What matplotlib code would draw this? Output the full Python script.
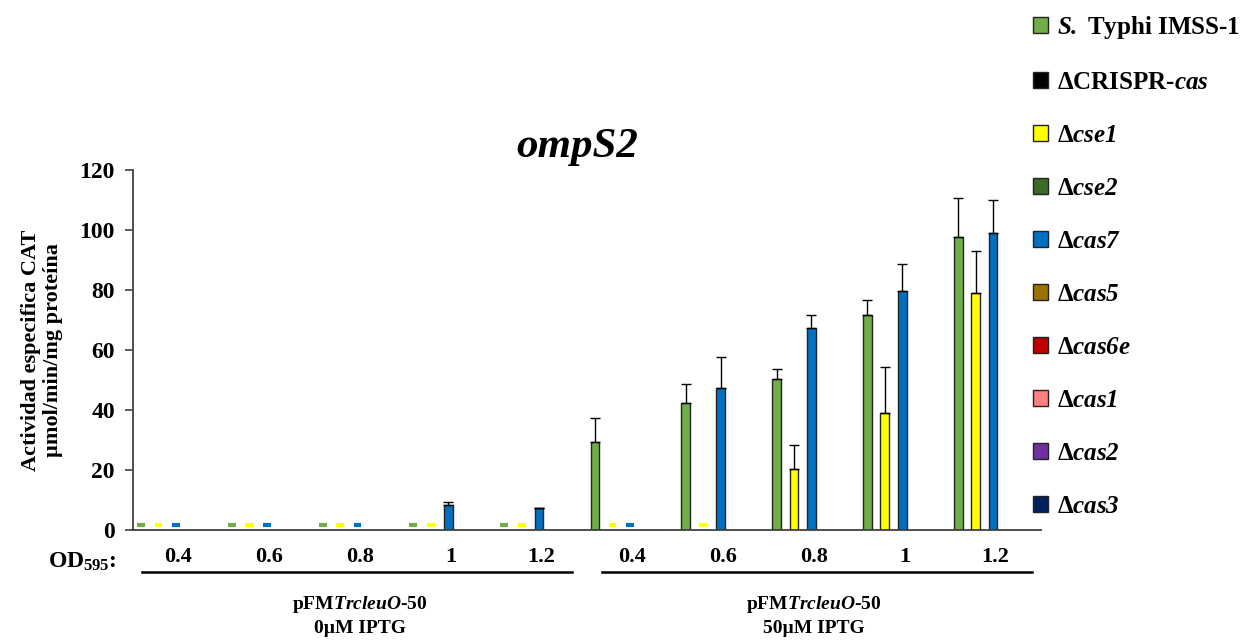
import numpy as np
import matplotlib
matplotlib.use("Agg")
import matplotlib.pyplot as plt
from matplotlib.patches import Patch

plt.rcParams['font.family'] = ['Liberation Serif', 'DejaVu Serif']
plt.rcParams['font.weight'] = 'bold'
plt.rcParams['axes.labelweight'] = 'bold'
plt.rcParams['mathtext.fontset'] = 'custom'
# math parts are only used for italic gene names, so digits come out italic too
plt.rcParams['mathtext.rm'] = 'Liberation Serif:italic:bold'
plt.rcParams['mathtext.it'] = 'Liberation Serif:italic:bold'
plt.rcParams['mathtext.bf'] = 'Liberation Serif:bold'

# data (CAT specific activity)
od_labels = ['0.4', '0.6', '0.8', '1', '1.2', '0.4', '0.6', '0.8', '1', '1.2']
wt = [0, 0, 0, 0, 0, 29.3, 42.3, 50.3, 71.7, 97.7]
wt_err = [0, 0, 0, 0, 0, 8.0, 6.4, 3.4, 5.0, 13.0]
cse1 = [0, 0, 0, 0, 0, 0, 0, 20.3, 39.0, 79.0]
cse1_err = [0, 0, 0, 0, 0, 0, 0, 8.0, 15.3, 14.0]
cas7 = [0, 0, 0, 8.3, 7.3, 0, 47.3, 67.3, 79.7, 99.0]
cas7_err = [0, 0, 0, 1.0, 0.2, 0, 10.4, 4.4, 9.0, 11.0]

legend_labels = [r'$S.$ Typhi IMSS-1', r'ΔCRISPR-$cas$', r'Δ$cse1$',
                 r'Δ$cse2$', r'Δ$cas7$', r'Δ$cas5$', r'Δ$cas6e$',
                 r'Δ$cas1$', r'Δ$cas2$', r'Δ$cas3$']
legend_colors = ['#70AD47', '#000000', '#FFFF00', '#3B6B26', '#0070C0', '#9C7200',
                 '#C00000', '#FF8080', '#7030A0', '#002060']

group_names = [r'pFM$TrcleuO$-50' + '\n0µM IPTG',
               r'pFM$TrcleuO$-50' + '\n50µM IPTG']

fig = plt.figure(figsize=(12.52, 6.4), dpi=100)
ax = fig.add_axes([133/1252, 1-530/640, 908/1252, 360/640])

x = np.arange(len(od_labels))
slot = 0.096
series = [(wt, wt_err, 0, legend_colors[0]),
          (cse1, cse1_err, 2, legend_colors[2]),
          (cas7, cas7_err, 4, legend_colors[4])]
for vals, errs, k, col in series:
    vals = np.array(vals); errs = np.array(errs)
    pos = x + (k - 4.5) * slot + 0.02
    nz = vals > 0
    ax.bar(pos[nz], vals[nz], width=slot, color=col, edgecolor='#222222', linewidth=1, zorder=2)
    ax.errorbar(pos[nz], vals[nz], yerr=[np.zeros(nz.sum()), errs[nz]], fmt='none',
                ecolor='black', elinewidth=1, capsize=3.5, capthick=1, zorder=3)
    # zero values are shown as short dashes just above the axis
    for p in pos[~nz]:
        ax.hlines(1.7, p - slot*0.45, p + slot*0.45, color=col, lw=3, zorder=2)

ax.set_xlim(-0.5, 9.5)
ax.set_ylim(0, 120)
ax.set_yticks(range(0, 121, 20))
ax.set_xticks(x)
ax.set_xticklabels(od_labels)
ax.tick_params(axis='x', length=0, pad=12, labelsize=16)
ax.tick_params(axis='y', length=6, width=1.2, direction='out', labelsize=17, pad=7,
               color='#404040')
for s in ['top', 'right']:
    ax.spines[s].set_visible(False)
for s in ['left', 'bottom']:
    ax.spines[s].set_color('#404040')
    ax.spines[s].set_linewidth(1.3)
ax.set_ylabel('Actividad especifica CAT\nµmol/min/mg proteína', fontsize=16, labelpad=12,
              linespacing=1.15)

# group brackets under the OD labels
for i, (a, b) in enumerate([(-0.4, 4.33), (4.67, 9.4)]):
    ax.plot([a, b], [-14, -14], color='black', lw=1.8, clip_on=False)
    ax.text(2 + 5*i, -21.2, group_names[i], ha='center', va='top', fontsize=14, linespacing=1.4)

fig.text(48/1252, 1-568/640, r'OD$_{\mathbf{595}}$:', fontsize=17, va='baseline', ha='left')
fig.text(577/1252, 1-157/640, 'ompS2', fontsize=31, style='italic', ha='center', va='baseline')

handles = [Patch(facecolor=c, edgecolor='#222222', linewidth=1) for c in legend_colors]
fig.legend(handles, legend_labels, loc='upper left', bbox_to_anchor=(1033/1252, 1-14/640),
           frameon=False, fontsize=18, handlelength=0.6, handleheight=0.6, handletextpad=0.35,
           labelspacing=1.2, borderpad=0, borderaxespad=0)

fig.savefig('out.png', dpi=100)
